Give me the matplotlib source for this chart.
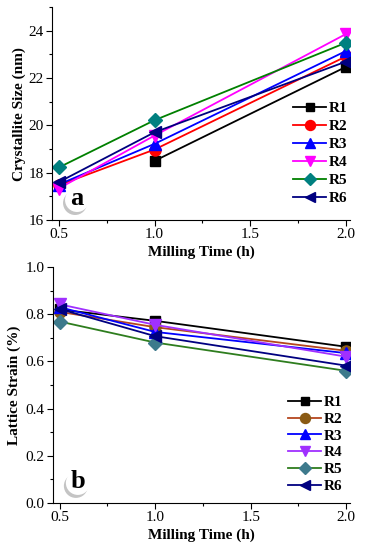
import numpy as np
import matplotlib
matplotlib.use("Agg")
import matplotlib.pyplot as plt
from matplotlib.ticker import MultipleLocator
from matplotlib.patches import Ellipse

plt.rcParams['font.family'] = ['Liberation Serif', 'DejaVu Serif']

time_h = [0.5, 1.0, 2.0]
series = ["R1", "R2", "R3", "R4", "R5", "R6"]

size_R1 = [np.nan, 18.5, 22.48]
size_R2 = [17.47, 18.98, 22.92]
size_R3 = [17.5, 19.22, 23.15]
size_R4 = [17.33, 19.57, 23.87]
size_R5 = [18.22, 20.22, 23.5]
size_R6 = [17.6, 19.71, 22.7]

strain_R1 = [0.82, 0.772, 0.662]
strain_R2 = [0.81, 0.745, 0.645]
strain_R3 = [0.83, 0.725, 0.635]
strain_R4 = [0.842, 0.755, 0.62]
strain_R5 = [0.769, 0.68, 0.56]
strain_R6 = [0.822, 0.707, 0.582]

size_data = [size_R1, size_R2, size_R3, size_R4, size_R5, size_R6]
strain_data = [strain_R1, strain_R2, strain_R3, strain_R4, strain_R5, strain_R6]

markers = ['s', 'o', '^', 'v', 'D', '<']
msizes = [7, 8, 8, 8, 7, 8]
top_line = ['black', '#ff0000', '#0000ff', '#ff00ff', '#008000', '#000080']
top_face = ['black', '#ff0000', '#0000ff', '#ff00ff', '#008080', '#000080']
bot_line = ['black', '#b5461f', '#0000ff', '#a030ff', '#2e7d1e', '#000080']
bot_face = ['black', '#8a5a14', '#0000ff', '#a030ff', '#3d7a8c', '#000080']

FW, FH = 365, 550
fig = plt.figure(figsize=(FW / 100, FH / 100), dpi=100)
pos1 = [0.1425, 0.6, 0.8165, 0.387]
pos2 = [0.145, 0.0855, 0.814, 0.429]
ax1 = fig.add_axes(pos1)
ax2 = fig.add_axes(pos2)

def style(ax, ylab, ymaj, ymin, lpad):
    for s in ['top', 'right']:
        ax.spines[s].set_visible(False)
    ax.set_xlim(0.465, 2.02)
    ax.xaxis.set_major_locator(MultipleLocator(0.5))
    ax.xaxis.set_minor_locator(MultipleLocator(0.25))
    ax.yaxis.set_major_locator(MultipleLocator(ymaj))
    ax.yaxis.set_minor_locator(MultipleLocator(ymin))
    ax.tick_params(which='major', direction='out', length=4, width=0.8, labelsize=11, pad=2)
    ax.tick_params(which='minor', direction='out', length=2.5, width=0.8)
    ax.set_xlabel('Milling Time (h)', fontsize=11, fontweight='bold', labelpad=3)
    ax.set_ylabel(ylab, fontsize=11, fontweight='bold', labelpad=lpad)

def label(ax, pos, txt, x, y, r_px=12):
    wpx = pos[2] * FW
    hpx = pos[3] * FH
    w = 2 * r_px / wpx
    h = 2 * r_px / hpx
    sh = Ellipse((x - 2 / wpx, y - 3 / hpx), w, h, transform=ax.transAxes,
                 facecolor='#c4c4c4', edgecolor='none', zorder=4)
    c = Ellipse((x, y), w, h, transform=ax.transAxes,
                facecolor='white', edgecolor='none', zorder=5)
    ax.add_patch(sh)
    ax.add_patch(c)
    ax.text(x, y + 1 / hpx, txt, transform=ax.transAxes, ha='center', va='center',
            fontsize=19, fontweight='bold', zorder=6)

for i, name in enumerate(series):
    ax1.plot(time_h, size_data[i], color=top_line[i], marker=markers[i],
             markerfacecolor=top_face[i], markeredgecolor=top_face[i],
             markersize=msizes[i], linewidth=1.3, label=name)
    ax2.plot(time_h, strain_data[i], color=bot_line[i], marker=markers[i],
             markerfacecolor=bot_face[i], markeredgecolor=bot_face[i],
             markersize=msizes[i], linewidth=1.3, label=name)

ax1.set_ylim(16, 25)
ax2.set_ylim(0.0, 1.0)
style(ax1, 'Crystallite Size (nm)', 2, 1, 2)
style(ax2, 'Lattice Strain (%)', 0.2, 0.1, 3)
ax1.set_xticks([0.5, 1.0, 1.5, 2.0])
ax1.set_xticklabels(['0.5', '1.0', '1.5', '2.0'])
ax2.set_yticks([0.0, 0.2, 0.4, 0.6, 0.8, 1.0])
ax2.set_yticklabels(['0.0', '0.2', '0.4', '0.6', '0.8', '1.0'])

leg_kw = dict(frameon=False, handlelength=2.2, handletextpad=0.15,
              prop={'weight': 'bold', 'size': 11}, borderaxespad=0.1, markerscale=0.9)
ax1.legend(loc='lower right', bbox_to_anchor=(1.017, 0.035), labelspacing=0.28, **leg_kw)
ax2.legend(loc='lower right', bbox_to_anchor=(1.0, 0.01), labelspacing=0.2, **leg_kw)

label(ax1, pos1, 'a', 0.084, 0.094)
label(ax2, pos2, 'b', 0.084, 0.085)

fig.savefig('out.png', dpi=100)
